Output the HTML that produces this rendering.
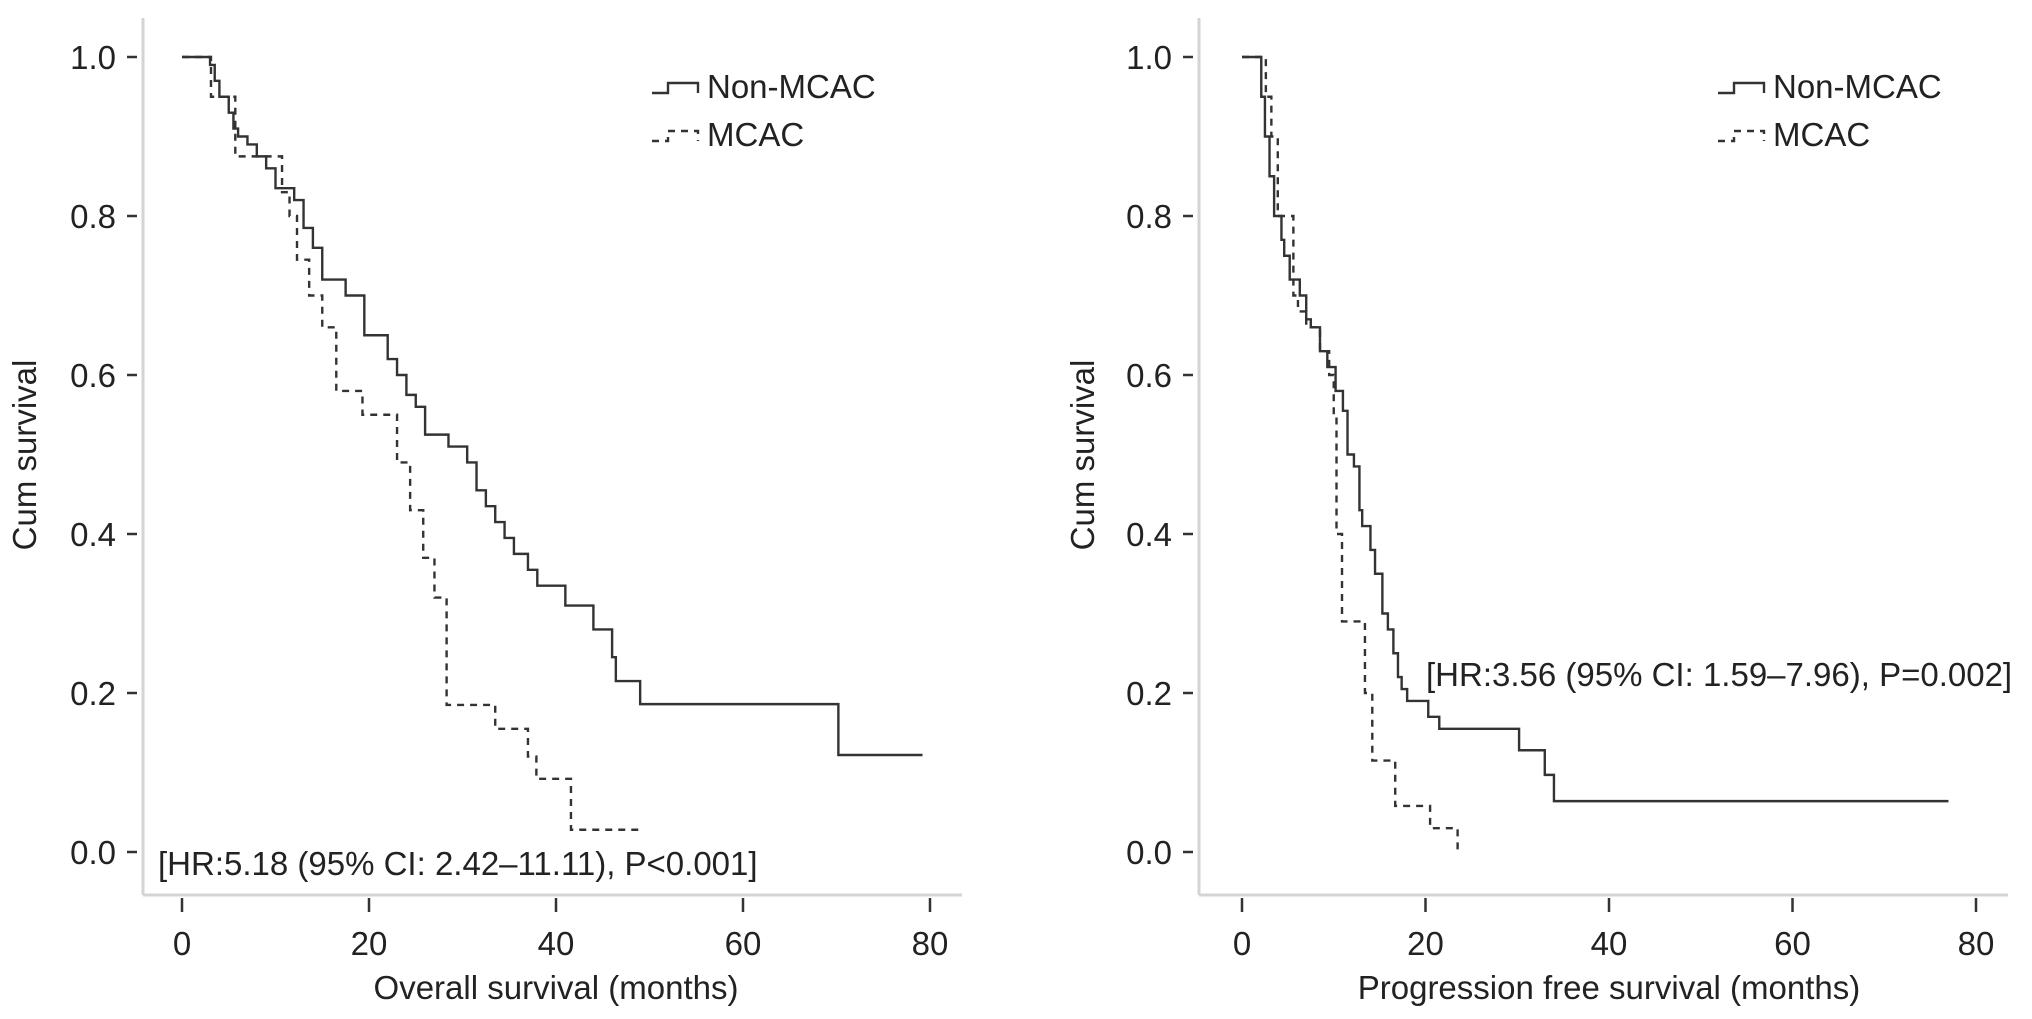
<!DOCTYPE html>
<html><head><meta charset="utf-8"><style>
html,body{margin:0;padding:0;background:#fff;}
svg{display:block;font-family:"Liberation Sans",Arial,sans-serif;}
</style></head><body>
<svg id="chart" width="2032" height="1019" viewBox="0 0 2032 1019" xmlns="http://www.w3.org/2000/svg"></svg>
<script>
// Overall survival (left panel)
const osNonTimes = [0,3,3.5,4,5,5.5,6,7,8,9,10,12,13,14,15,17.5,19.5,22,23,24,25,26,28.5,30.5,31.5,32.5,33.5,34.5,35.5,37,38,41,44,46,46.4,49,70.2,79.2];
const osNonSurv  = [1,0.99,0.97,0.95,0.93,0.91,0.90,0.89,0.875,0.86,0.835,0.82,0.785,0.76,0.72,0.70,0.65,0.62,0.60,0.575,0.56,0.525,0.51,0.49,0.455,0.435,0.415,0.395,0.375,0.355,0.335,0.31,0.28,0.245,0.215,0.186,0.122,0.122];
const osMcacTimes = [0,3.1,5.7,10.7,11.5,12.3,13.6,15,16.5,19.3,23,24.4,25.8,27,28.3,33.5,37,37.9,41.6,49];
const osMcacSurv  = [1,0.95,0.875,0.83,0.80,0.745,0.70,0.66,0.58,0.55,0.49,0.43,0.37,0.32,0.185,0.155,0.12,0.092,0.028,0.028];
// Progression free survival (right panel)
const pfsNonTimes = [0,2.1,2.5,3,3.5,4.3,4.6,5.2,6.3,7,7.5,8.5,9.3,10.2,11,11.5,12.2,12.8,13.1,14,14.5,15.3,15.9,16.5,17,17.4,18,20.3,21.5,22.5,30.2,33,34,77];
const pfsNonSurv  = [1,0.95,0.9,0.85,0.8,0.77,0.75,0.72,0.70,0.67,0.66,0.63,0.61,0.58,0.555,0.50,0.485,0.43,0.41,0.38,0.35,0.30,0.28,0.25,0.22,0.205,0.19,0.17,0.155,0.155,0.128,0.097,0.064,0.064];
const pfsMcacTimes = [0,2.6,3.2,3.9,5.6,6.1,7,8.5,9.5,10,10.3,10.9,13.4,14.2,16.7,20.5,23.5];
const pfsMcacSurv  = [1,0.95,0.90,0.80,0.70,0.68,0.66,0.63,0.60,0.55,0.40,0.29,0.20,0.115,0.058,0.03,0.0];
const xTicks = [0,20,40,60,80];
const yTicks = [0,0.2,0.4,0.6,0.8,1.0];
const yTickLabels = ["0.0","0.2","0.4","0.6","0.8","1.0"];

const NS="http://www.w3.org/2000/svg";
const svg=document.getElementById('chart');
const FS=33;
function mk(tag,attrs,parent){const e=document.createElementNS(NS,tag);for(const k in attrs)e.setAttribute(k,attrs[k]);(parent||svg).appendChild(e);return e;}

function panel(cfg){
  const g=mk('g',{});
  
  
  const sx=v=>cfg.x0+(cfg.x80-cfg.x0)*v/80;
  const sy=v=>852+(57-852)*v;
  const ya=mk('line',{x1:cfg.ax,y1:18,x2:cfg.ax,y2:895,stroke:'#d4d4d4','stroke-width':3},g);
  
  
  const xa=mk('line',{x1:cfg.ax,y1:895,x2:cfg.x80+32,y2:895,stroke:'#d4d4d4','stroke-width':3},g);
  
  
  yTicks.forEach((v,i)=>{
    const t=mk('line',{x1:cfg.ax-16,y1:sy(v),x2:cfg.ax-6,y2:sy(v),stroke:'#333','stroke-width':2.5},g);
    
    
    const l=mk('text',{x:cfg.ax-27,y:sy(v)+12,'text-anchor':'end','font-size':FS,fill:'#222'},g);
    l.textContent=yTickLabels[i];
    
    
  });
  xTicks.forEach(v=>{
    const t=mk('line',{x1:sx(v),y1:898,x2:sx(v),y2:912,stroke:'#333','stroke-width':2.5},g);
    
    
    const l=mk('text',{x:sx(v),y:955,'text-anchor':'middle','font-size':FS,fill:'#222'},g);
    l.textContent=String(v);
    
    
  });
  const xt=mk('text',{x:(sx(0)+sx(80))/2,y:999,'text-anchor':'middle','font-size':FS,fill:'#222'},g);
  xt.textContent=cfg.xTitle;
  
  
  const yt=mk('text',{x:0,y:0,'text-anchor':'middle','font-size':FS,fill:'#222',transform:`translate(${cfg.ylx},455) rotate(-90)`},g);
  yt.textContent='Cum survival';
  
  
  function step(ts,vs,dash,name){
    let d=`M${sx(ts[0])},${sy(vs[0])}`;
    for(let i=1;i<ts.length;i++){d+=` H${sx(ts[i])} V${sy(vs[i])}`;}
    const p=mk('path',{d:d,fill:'none',stroke:'#333','stroke-width':2.4},g);
    if(dash)p.setAttribute('stroke-dasharray','7,6');
    
    
  }
  step(cfg.nt,cfg.ns,false,'non-mcac-curve');
  step(cfg.mt,cfg.ms,true,'mcac-curve');
  const lx=cfg.lx;
  const l1=mk('path',{d:`M${lx},93 H${lx+16} V83 H${lx+46} V93`,fill:'none',stroke:'#333','stroke-width':2.4},g);
  
  
  const t1=mk('text',{x:lx+55,y:98,'font-size':FS,fill:'#222'},g);
  t1.textContent='Non-MCAC';
  
  
  const l2=mk('path',{d:`M${lx},141 H${lx+16} V131 H${lx+46} V141`,fill:'none',stroke:'#333','stroke-width':2.4,'stroke-dasharray':'7,6'},g);
  
  
  const t2=mk('text',{x:lx+55,y:146,'font-size':FS,fill:'#222'},g);
  t2.textContent='MCAC';
  
  
  const hr=mk('text',{x:cfg.hrx,y:cfg.hry,'font-size':FS,fill:'#222'},g);
  hr.textContent=cfg.hr;
  
  
}
panel({name:'overall-survival-panel',ax:143,x0:182,x80:930,ylx:36,xTitle:'Overall survival (months)',
  nt:osNonTimes,ns:osNonSurv,mt:osMcacTimes,ms:osMcacSurv,lx:652,hrx:158,hry:875,
  hr:'[HR:5.18 (95% CI: 2.42\u201311.11), P<0.001]'});
panel({name:'progression-free-survival-panel',ax:1199,x0:1242,x80:1976,ylx:1094,xTitle:'Progression free survival (months)',
  nt:pfsNonTimes,ns:pfsNonSurv,mt:pfsMcacTimes,ms:pfsMcacSurv,lx:1718,hrx:1426,hry:686,
  hr:'[HR:3.56 (95% CI: 1.59\u20137.96), P=0.002]'});
</script>
</body></html>
